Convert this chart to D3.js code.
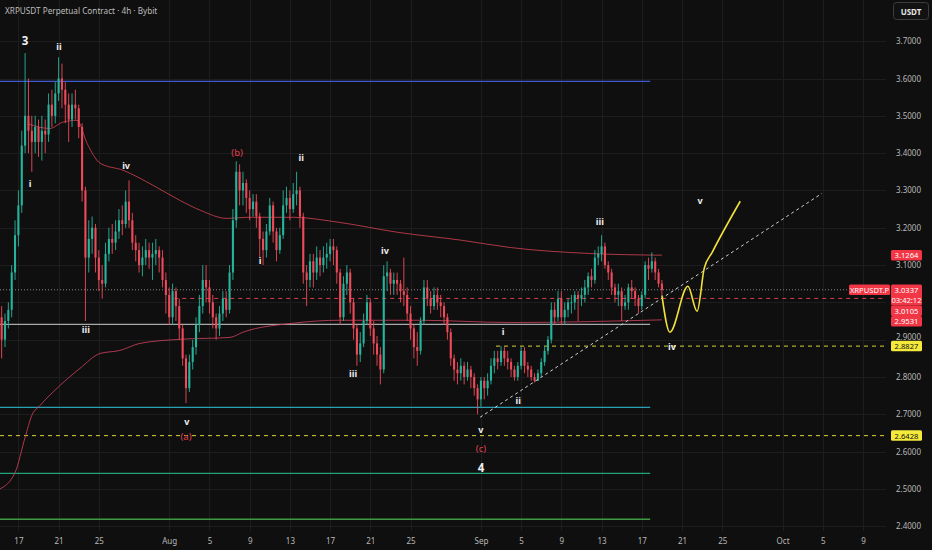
<!DOCTYPE html>
<html><head><meta charset="utf-8">
<script src="https://cdn.jsdelivr.net/npm/d3@7"></script>
<style>html,body{margin:0;padding:0;background:#0f0f0f;overflow:hidden}svg{display:block}</style>
</head><body><svg id="c" width="932" height="550"></svg>
<script>
// ---------------- DATA ----------------
const title = "XRPUSDT Perpetual Contract · 4h · Bybit";
const firstBarTime = "2025-07-15T08:00:00Z";
const barHours = 8;
const firstOpen = 2.96;
const closes = [2.90,2.95,2.98,3.08,3.18,3.26,3.42,3.50,3.46,3.43,3.47,3.43,3.46,3.45,3.53,3.50,3.56,3.60,3.57,3.53,
3.49,3.53,3.52,3.47,3.30,3.12,3.17,3.20,3.12,3.06,3.05,3.13,3.17,3.16,3.19,3.22,3.21,3.27,3.22,3.16,
3.14,3.10,3.12,3.14,3.12,3.13,3.14,3.12,3.06,3.02,2.96,3.03,2.99,2.93,2.85,2.77,2.84,2.88,2.94,2.99,
3.06,3.04,3.00,2.96,2.93,2.97,3.01,2.98,3.08,3.22,3.35,3.30,3.32,3.28,3.25,3.27,3.23,3.17,3.14,3.19,
3.26,3.19,3.14,3.18,3.26,3.28,3.25,3.29,3.30,3.23,3.08,3.06,3.11,3.08,3.12,3.10,3.12,3.13,3.15,3.14,
3.08,2.96,3.05,3.08,3.00,2.93,2.86,2.89,2.95,3.00,2.93,2.89,2.86,2.82,3.07,3.08,3.05,3.06,3.05,3.03,
3.02,2.97,2.93,2.88,2.87,2.95,3.04,3.01,2.99,3.02,3.00,2.99,2.96,2.92,2.85,2.82,2.81,2.83,2.80,2.82,
2.80,2.77,2.74,2.79,2.77,2.79,2.83,2.85,2.84,2.87,2.85,2.84,2.82,2.80,2.83,2.87,2.83,2.82,2.80,2.79,
2.81,2.84,2.87,2.90,2.98,2.96,3.01,2.96,2.98,3.00,3.00,3.02,3.01,3.02,3.04,3.07,3.06,3.12,3.13,3.15,
3.10,3.08,3.04,3.02,3.03,2.99,3.00,3.04,3.03,3.01,2.99,3.02,3.10,3.09,3.11,3.08,3.05,3.0337];
const highs = [2.99,2.97,3.00,3.10,3.22,3.30,3.46,3.668,3.60,3.50,3.50,3.49,3.50,3.49,3.56,3.57,3.59,3.657,3.64,3.59,
3.56,3.56,3.57,3.53,3.48,3.31,3.22,3.23,3.21,3.14,3.10,3.16,3.20,3.21,3.22,3.25,3.26,3.30,3.327,3.24,
3.18,3.16,3.15,3.17,3.16,3.16,3.17,3.15,3.14,3.08,3.04,3.05,3.04,3.01,2.94,2.86,2.86,2.90,2.96,3.02,
3.10,3.10,3.06,3.02,2.97,2.99,3.03,3.03,3.10,3.25,3.378,3.37,3.35,3.33,3.30,3.29,3.29,3.24,3.19,3.21,
3.28,3.27,3.20,3.20,3.30,3.31,3.30,3.32,3.35,3.31,3.24,3.10,3.13,3.13,3.15,3.14,3.15,3.16,3.17,3.17,
3.15,3.09,3.07,3.10,3.09,3.01,2.94,2.92,2.97,3.02,3.01,2.95,2.91,2.88,3.10,3.11,3.09,3.08,3.08,3.06,
3.12,3.04,2.99,2.94,2.92,2.96,3.06,3.06,3.03,3.04,3.04,3.02,3.00,2.97,2.93,2.86,2.84,2.85,2.84,2.84,
2.83,2.81,2.78,2.80,2.80,2.81,2.85,2.87,2.87,2.8827,2.88,2.87,2.85,2.83,2.84,2.88,2.88,2.84,2.83,2.81,
2.82,2.85,2.88,2.91,3.00,3.00,3.03,3.03,3.00,3.01,3.02,3.03,3.03,3.04,3.06,3.08,3.09,3.14,3.15,3.18,
3.16,3.11,3.09,3.05,3.05,3.04,3.02,3.05,3.06,3.04,3.02,3.03,3.11,3.12,3.134,3.12,3.09,3.06];
const lows = [2.85,2.88,2.93,2.96,3.06,3.15,3.24,3.40,3.40,3.35,3.40,3.39,3.38,3.40,3.43,3.47,3.48,3.54,3.52,3.48,
3.43,3.47,3.49,3.44,3.27,2.95,3.08,3.13,3.08,3.03,3.01,3.04,3.11,3.13,3.14,3.17,3.18,3.20,3.20,3.14,
3.11,3.08,3.07,3.10,3.09,3.06,3.10,3.08,3.04,2.97,2.94,2.94,2.95,2.90,2.83,2.73,2.76,2.82,2.86,2.92,
2.97,3.00,2.97,2.93,2.90,2.91,2.95,2.96,2.97,3.06,3.20,3.26,3.26,3.24,3.22,3.23,3.20,3.12,3.10,3.12,
3.18,3.16,3.11,3.13,3.17,3.24,3.22,3.24,3.26,3.20,3.05,2.99,3.04,3.04,3.06,3.07,3.08,3.09,3.11,3.10,
3.05,2.94,2.95,3.02,2.97,2.90,2.83,2.84,2.88,2.94,2.91,2.86,2.83,2.78,2.81,3.03,3.02,3.02,3.02,3.00,
2.99,2.95,2.90,2.85,2.83,2.86,2.94,2.99,2.97,2.98,2.98,2.96,2.94,2.90,2.83,2.79,2.78,2.79,2.78,2.79,
2.77,2.75,2.70,2.72,2.74,2.75,2.78,2.81,2.82,2.83,2.83,2.82,2.80,2.79,2.79,2.82,2.81,2.80,2.79,2.785,
2.79,2.80,2.83,2.86,2.89,2.94,2.95,2.94,2.94,2.96,2.97,2.98,2.95,2.99,3.00,3.02,3.04,3.05,3.10,3.11,
3.09,3.06,3.02,3.00,2.99,2.95,2.98,2.98,3.01,2.99,2.97,2.98,3.01,3.06,3.08,3.06,3.04,3.02];

const maUpperTimes = ["2025-07-18T00:00","2025-07-20T03:00","2025-07-21T10:00","2025-07-22T20:00","2025-07-23T20:00","2025-07-25T03:00","2025-07-27T10:00","2025-07-30T09:00","2025-08-02T02:00","2025-08-04T02:00","2025-08-06T18:00","2025-08-08T18:00","2025-08-13T08:00","2025-08-18T00:00","2025-08-23T16:00","2025-08-30T05:00","2025-09-03T22:00","2025-09-11T19:00","2025-09-19T00:00"];
const maUpperValues = [3.478,3.466,3.483,3.488,3.426,3.373,3.354,3.314,3.273,3.247,3.225,3.228,3.228,3.214,3.188,3.166,3.147,3.131,3.1264];
const maLowerTimes = ["2025-07-15T04:00","2025-07-16T16:00","2025-07-17T16:00","2025-07-18T08:00","2025-07-19T04:00","2025-07-21T03:00","2025-07-23T03:00","2025-07-25T03:00","2025-07-27T02:00","2025-07-29T02:00","2025-08-02T02:00","2025-08-07T01:00","2025-08-08T08:00","2025-08-13T07:00","2025-08-18T00:00","2025-08-25T22:00","2025-09-03T22:00","2025-09-19T00:00"];
const maLowerValues = [2.500,2.544,2.638,2.697,2.724,2.777,2.823,2.863,2.871,2.890,2.901,2.906,2.920,2.944,2.952,2.952,2.946,2.9531];

const projTimes = ["2025-09-19T00:00","2025-09-19T19:00","2025-09-21T14:00","2025-09-22T12:00","2025-09-23T05:00","2025-09-24T00:00","2025-09-26T19:00"];
const projPrices = [3.019,2.920,3.043,2.976,3.091,3.134,3.271];

const trendTimes = ["2025-08-31T22:00","2025-10-04T22:00"];
const trendPrices = [2.692,3.292];

const levelPrices = [3.5925, 2.941, 2.7185, 2.5416, 2.4183];
const levelStart = "2025-07-15T00:00";
const levelEnd = "2025-09-17T20:00";

const waveText  = ["3","ii","i","iv","iii","(b)","ii","i","v","(a)","iv","iii","i","v","(c)","4","ii","iii","iv","v"];
const waveTimes = ["2025-07-17T16:00","2025-07-21T01:00","2025-07-18T04:00","2025-07-27T17:00","2025-07-23T17:00","2025-08-07T18:00","2025-08-14T03:00","2025-08-10T01:00","2025-08-02T18:00","2025-08-02T16:00","2025-08-22T11:00","2025-08-19T07:00","2025-09-03T05:00","2025-09-01T00:00","2025-09-01T00:00","2025-09-01T00:00","2025-09-04T17:00","2025-09-12T20:00","2025-09-20T00:00","2025-09-22T19:00"];
const wavePrices = [3.702,3.686,3.319,3.367,2.928,3.402,3.389,3.113,2.681,2.641,3.139,2.810,2.922,2.660,2.609,2.558,2.737,3.217,2.882,3.273];

const tickDates = ["2025-07-17","2025-07-21","2025-07-25","2025-08-01","2025-08-05","2025-08-09","2025-08-13","2025-08-17","2025-08-21","2025-08-25","2025-09-01","2025-09-05","2025-09-09","2025-09-13","2025-09-17","2025-09-21","2025-09-25","2025-10-01","2025-10-05","2025-10-09"];
const priceTicks = [2.4,2.5,2.6,2.7,2.8,2.9,3.0,3.1,3.2,3.3,3.4,3.5,3.6,3.7];

const lastPrice = 3.0337;
const countdown = "03:42:12";
const symbolTag = "XRPUSDT.P";
const redDashPrice = 3.0105, redDashStart = "2025-08-01T12:00";
const yellowHighPrice = 2.8827, yellowHighStart = "2025-09-02T12:00";
const yellowLowPrice = 2.6428;
const maUpperLast = 3.1264, maLowerLast = 2.9531;

// ---------------- CHART ----------------
const T = s => new Date(s.endsWith("Z") ? s : (s.length===10 ? s+"T00:00:00Z" : s+":00Z"));
const svg = d3.select("#c");
const W = 932, H = 550, plotR = 886, plotB = 531;
const FONT = "'Noto Sans', 'DejaVu Sans', sans-serif";
svg.append("rect").attr("width",W).attr("height",H).attr("fill","#0f0f0f");

const x = d3.scaleUtc().domain([T("2025-07-17"), T("2025-10-09")]).range([18.4, 863.0]);
const y = d3.scaleLinear().domain([2.4, 3.7]).range([526.2, 41.2]);

// grid
const grid = svg.append("g").attr("stroke","#1d1d1d").attr("stroke-width",1);
tickDates.forEach(d => grid.append("line").attr("x1",Math.round(x(T(d)))+0.5).attr("x2",Math.round(x(T(d)))+0.5).attr("y1",0).attr("y2",plotB));
priceTicks.forEach(p => grid.append("line").attr("x1",0).attr("x2",plotR).attr("y1",Math.round(y(p))+0.5).attr("y2",Math.round(y(p))+0.5));

svg.append("defs").append("clipPath").attr("id","pc").append("rect").attr("x",0).attr("y",0).attr("width",plotR).attr("height",plotB);
const plot = svg.append("g").attr("clip-path","url(#pc)");

// horizontal levels
const levelColors = ["#3d5bd1","#a9a9a9","#2aa1b3","#22a37a","#3e9a44"];
levelPrices.forEach((p,i) => plot.append("line")
  .attr("x1",x(T(levelStart))).attr("x2",x(T(levelEnd)))
  .attr("y1",y(p)).attr("y2",y(p)).attr("stroke",levelColors[i]).attr("stroke-width", i===4?1.5:1.2));

// dashed lines
plot.append("line").attr("x1",0).attr("x2",plotR).attr("y1",y(lastPrice)).attr("y2",y(lastPrice))
  .attr("stroke","#8a8a8a").attr("stroke-width",1).attr("stroke-dasharray","1,2");
plot.append("line").attr("x1",x(T(redDashStart))).attr("x2",plotR).attr("y1",y(redDashPrice)).attr("y2",y(redDashPrice))
  .attr("stroke","#d8404f").attr("stroke-width",1).attr("stroke-dasharray","4,4");
plot.append("line").attr("x1",x(T(yellowHighStart))).attr("x2",plotR).attr("y1",y(yellowHighPrice)).attr("y2",y(yellowHighPrice))
  .attr("stroke","#d9d53a").attr("stroke-width",1).attr("stroke-dasharray","4,4");
plot.append("line").attr("x1",0).attr("x2",plotR).attr("y1",y(yellowLowPrice)).attr("y2",y(yellowLowPrice))
  .attr("stroke","#d9d53a").attr("stroke-width",1).attr("stroke-dasharray","4,4");

// moving averages
const line = d3.line().x(d=>x(d[0])).y(d=>y(d[1])).curve(d3.curveMonotoneX);
plot.append("path").attr("d", line(maUpperTimes.map((t,i)=>[T(t),maUpperValues[i]])))
  .attr("fill","none").attr("stroke","#c8404f").attr("stroke-opacity",0.85).attr("stroke-width",1);
plot.append("path").attr("d", line(maLowerTimes.map((t,i)=>[T(t),maLowerValues[i]])))
  .attr("fill","none").attr("stroke","#c8405a").attr("stroke-opacity",0.85).attr("stroke-width",1);

// candles
const t0 = T(firstBarTime);
const bars = closes.map((c,i)=>({
  t: d3.utcHour.offset(t0, i*barHours),
  o: i===0 ? firstOpen : closes[i-1], h: highs[i], l: lows[i], c
}));
const bw = (x(d3.utcHour.offset(t0,barHours)) - x(t0)) * 0.62;
const up = "#26b59c", dn = "#ef4a5a";
const cg = plot.append("g");
bars.forEach(b => {
  const cx = x(b.t), col = b.c >= b.o ? up : dn;
  const hi = Math.max(b.h,b.o,b.c), lo = Math.min(b.l,b.o,b.c);
  cg.append("line").attr("x1",cx).attr("x2",cx).attr("y1",y(hi)).attr("y2",y(lo)).attr("stroke",col).attr("stroke-width",0.9);
  const top = y(Math.max(b.o,b.c)), bot = y(Math.min(b.o,b.c));
  cg.append("rect").attr("x",cx-bw/2).attr("y",top).attr("width",bw).attr("height",Math.max(0.8,bot-top)).attr("fill",col);
});

// trend line
plot.append("line").attr("x1",x(T(trendTimes[0]))).attr("y1",y(trendPrices[0]))
  .attr("x2",x(T(trendTimes[1]))).attr("y2",y(trendPrices[1]))
  .attr("stroke","#d0d0d0").attr("stroke-width",1).attr("stroke-dasharray","3,3");

// projection
plot.append("path").attr("d", line(projTimes.map((t,i)=>[T(t),projPrices[i]])))
  .attr("fill","none").attr("stroke","#f2e03a").attr("stroke-width",1.6);

// wave labels
waveText.forEach((s,i)=>{
  const isMajor = /^\d$/.test(s), isAbc = s.startsWith("(");
  plot.append("text").attr("x",x(T(waveTimes[i]))).attr("y",y(wavePrices[i]))
    .attr("text-anchor","middle").attr("dominant-baseline","central")
    .attr("font-family",FONT).attr("font-weight", isAbc?"normal":"bold")
    .attr("font-size", isMajor?11.5:(isAbc?9.5:9))
    .attr("fill", isAbc ? "#e0404f" : "#f0f0f0").text(s);
});

// title
svg.append("text").attr("x",5).attr("y",14).attr("font-family",FONT).attr("font-size",8.2)
  .attr("fill","#bdbdbd").text(title);

// axes
const fmt = d3.utcFormat("%-d"), mfmt = d3.utcFormat("%b");
const xAxis = d3.axisBottom(x).tickValues(tickDates.map(T)).tickSize(0)
  .tickFormat(d => d.getUTCDate()===1 ? mfmt(d) : fmt(d));
const gx = svg.append("g").attr("transform",`translate(0,${plotB+6})`).call(xAxis);
gx.select(".domain").remove();
gx.selectAll("text").attr("font-family",FONT).attr("font-size",8).attr("fill","#b8b8b8").attr("dy","0.5em");

// price axis: labels hidden under the last-price tag block are not shown (as on the reference)
const coveredByTags = p => Math.abs(y(p) - y(lastPrice)) < 14;
const yAxis = d3.axisRight(y).tickValues(priceTicks.filter(p => !coveredByTags(p))).tickSize(0).tickFormat(d3.format(".4f"));
const gy = svg.append("g").attr("transform",`translate(${plotR+10},0)`).call(yAxis);
gy.select(".domain").remove();
gy.selectAll("text").attr("font-family",FONT).attr("font-size",8).attr("fill","#b8b8b8").attr("x",0)
  .attr("dy", d => Math.abs(y(d)-y(yellowHighPrice)) < 10 ? "-0.05em" : "0.32em");

// USDT button
svg.append("rect").attr("x",893.5).attr("y",2.5).attr("width",35).attr("height",17).attr("rx",3)
  .attr("fill","#121212").attr("stroke","#3c3c3c");
svg.append("text").attr("x",911).attr("y",11.5).attr("text-anchor","middle").attr("dominant-baseline","central")
  .attr("font-family",FONT).attr("font-size",8).attr("font-weight","bold").attr("fill","#e6e6e6").text("USDT");

// price tags
const tags = [
  {p: maUpperLast, bg:"#f23645", fg:"#fff", lines:[d3.format(".4f")(maUpperLast)]},
  {p: lastPrice, bg:"#f23645", fg:"#fff", lines:[d3.format(".4f")(lastPrice), countdown]},
  {p: redDashPrice, bg:"#f23645", fg:"#fff", lines:[d3.format(".4f")(redDashPrice)]},
  {p: maLowerLast, bg:"#f23645", fg:"#fff", lines:[d3.format(".4f")(maLowerLast)]},
  {p: yellowHighPrice, bg:"#f5ea3c", fg:"#111", lines:[d3.format(".4f")(yellowHighPrice)]},
  {p: yellowLowPrice, bg:"#f5ea3c", fg:"#111", lines:[d3.format(".4f")(yellowLowPrice)]}
];
const lh = 10.5;
let prevBottom = -Infinity;
tags.forEach(tg => {
  const h = lh*tg.lines.length;
  let top = y(tg.p) - lh/2;
  if (top < prevBottom) top = prevBottom;
  prevBottom = top + h;
  svg.append("rect").attr("x",891).attr("y",top).attr("width",31).attr("height",h).attr("rx",1.5).attr("fill",tg.bg);
  tg.lines.forEach((s,k)=> svg.append("text").attr("x",906.5).attr("y",top+lh*k+lh/2)
    .attr("text-anchor","middle").attr("dominant-baseline","central")
    .attr("font-family",FONT).attr("font-size",7.6).attr("fill",tg.fg).text(s));
});
// symbol tag
const sy = y(lastPrice);
svg.append("rect").attr("x",849).attr("y",sy-5.25).attr("width",41).attr("height",10.5).attr("rx",1.5).attr("fill","#f23645");
svg.append("text").attr("x",869.5).attr("y",sy).attr("text-anchor","middle").attr("dominant-baseline","central")
  .attr("font-family",FONT).attr("font-size",7.6).attr("fill","#fff").text(symbolTag);
</script></body></html>
